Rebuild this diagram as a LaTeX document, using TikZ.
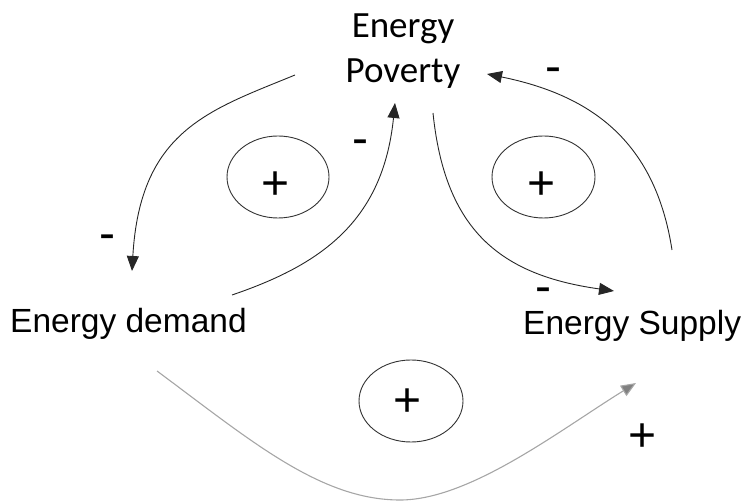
\documentclass[tikz,border=0pt]{standalone}
\usepackage{fontspec}
\setmainfont{Liberation Sans}
\newfontfamily\povfont{Carlito}
\usetikzlibrary{arrows.meta,shapes.geometric}
\begin{document}
\begin{tikzpicture}[x=1pt,y=-1pt,
  lbl/.style={inner sep=0pt, font=\fontsize{33.5}{40}\selectfont},
  sgn/.style={inner sep=0pt, anchor=base, font=\fontsize{48}{50}\selectfont},
  msgn/.style={sgn, text height=14pt, text depth=-10pt},
  loopmark/.style={draw=black!80, line width=0.9pt, ellipse, inner sep=0pt},
  link/.style={draw=black!85, line width=0.9pt, -{Triangle[length=15pt,width=12pt]}},
  glink/.style={draw=black!35, line width=1.1pt, -{Triangle[length=15pt,width=12pt,fill=black!50]}}]
\useasboundingbox (0,0) rectangle (747,502);
% variables
\node[inner sep=0pt, align=center, font=\povfont\fontsize{37}{45}\selectfont] (pov) at (403,51) {Energy\\Poverty};
\node[lbl, anchor=base west] (dem) at (10,333) {Energy demand};
\node[lbl, anchor=base west] (sup) at (523,335) {Energy Supply};
% connector ends
\coordinate (pd0) at (295,75);  \coordinate (pd1) at (132,271);
\coordinate (dp0) at (232,295); \coordinate (dp1) at (395,103);
\coordinate (ps0) at (433,113); \coordinate (ps1) at (614,291);
\coordinate (sp0) at (672,250); \coordinate (sp1) at (487,74);
\coordinate (ds0) at (157,371); \coordinate (ds1) at (636,383);
% connectors
\draw[link] (pd0) .. controls (210,110) and (140,130) .. (pd1);
\draw[link] (dp0) .. controls (320,265) and (383,222) .. (dp1);
\draw[link] (ps0) .. controls (445,230) and (500,275) .. (ps1);
\draw[link] (sp0) .. controls (655,140) and (590,95) .. (sp1);
\draw[glink] (ds0) .. controls (250,440) and (320,500) .. (400,500)
  .. controls (470,500) and (560,430) .. (ds1);
% loop markers
\node[loopmark, minimum width=102pt, minimum height=82pt] (la) at (278,177) {};
\node[loopmark, minimum width=103pt, minimum height=82pt] (lb) at (543.5,177) {};
\node[loopmark, minimum width=104pt, minimum height=82pt] (lc) at (411,401) {};
\node[sgn] (pa) at (276,200) {+};
\node[sgn] (pb) at (542,200) {+};
\node[sgn] (pc) at (408,417) {+};
% polarity signs
\node[msgn] (m1) at (107,250) {-};
\node[msgn] (m2) at (360,155) {-};
\node[msgn] (m3) at (553,83) {-};
\node[msgn] (m4) at (543,303) {-};
\node[sgn] (p4) at (643,451) {+};
\end{tikzpicture}
\end{document}
